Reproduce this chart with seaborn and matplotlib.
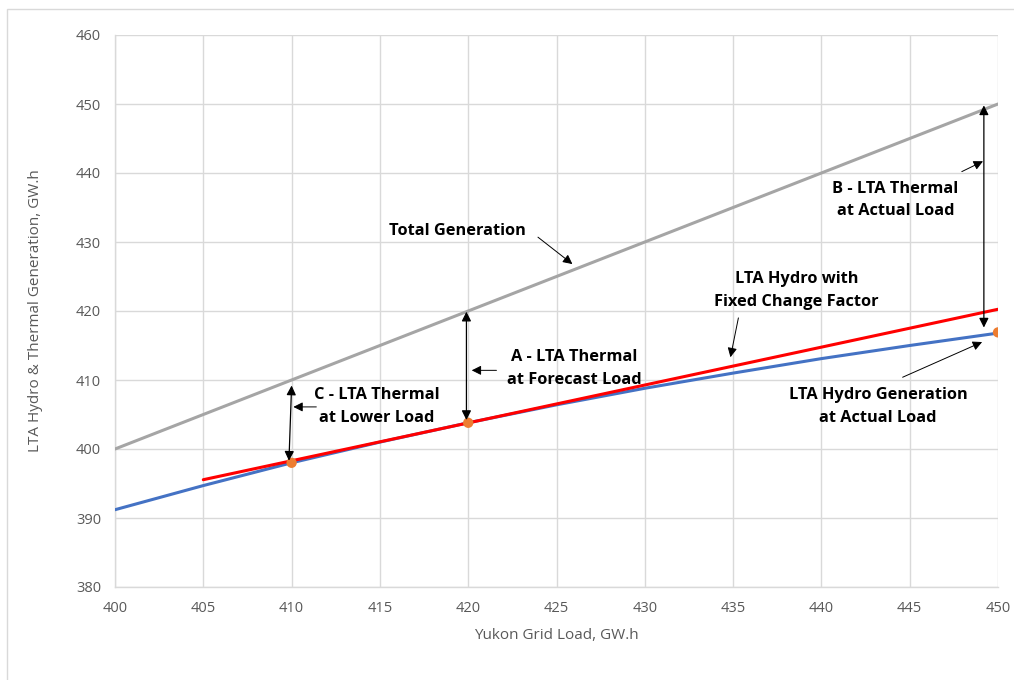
import matplotlib
matplotlib.use("Agg")
import matplotlib.pyplot as plt
import seaborn as sns
import pandas as pd
from matplotlib.patches import Rectangle

# ---- data ----
load = [400, 405, 410, 415, 420, 425, 430, 435, 440, 445, 450]
total_gen = [400, 405, 410, 415, 420, 425, 430, 435, 440, 445, 450]
hydro_gen = [391.2, 394.7, 398.0, 401.0, 403.8, 406.4, 408.8, 411.0, 413.1, 415.0, 416.8]
fixed_load = [405, 450]
fixed_hydro = [395.55, 420.25]
point_load = [410, 420, 450]
point_hydro = [398.0, 403.8, 416.9]
x_ticks = [400, 405, 410, 415, 420, 425, 430, 435, 440, 445, 450]
y_ticks = [380, 390, 400, 410, 420, 430, 440, 450, 460]

sns.set_theme(style="white")
plt.rcParams['font.family'] = ['Open Sans', 'DejaVu Sans']

fig = plt.figure(figsize=(10.14, 6.8), dpi=100)
ax = fig.add_axes([115/1014, 1-587/680, (998-115)/1014, (587-35)/680])

fig.patches.append(Rectangle((7/1014, -0.1), 1.2, 1-9/680+0.1, transform=fig.transFigure,
                             fill=False, edgecolor="#D9D9D9", linewidth=1.0))

df_total = pd.DataFrame({"x": load, "y": total_gen})
df_hydro = pd.DataFrame({"x": load, "y": hydro_gen})
df_fixed = pd.DataFrame({"x": fixed_load, "y": fixed_hydro})
df_pts = pd.DataFrame({"x": point_load, "y": point_hydro})

sns.lineplot(data=df_total, x="x", y="y", ax=ax, color="#A5A5A5", linewidth=2.2, zorder=3)
sns.lineplot(data=df_hydro, x="x", y="y", ax=ax, color="#4472C4", linewidth=2.2, zorder=3)
sns.lineplot(data=df_fixed, x="x", y="y", ax=ax, color="#FF0000", linewidth=2.2, zorder=4)
sns.scatterplot(data=df_pts, x="x", y="y", ax=ax, color="#ED7D31", s=55, edgecolor="none", zorder=5)

ax.set_xlim(400, 450)
ax.set_ylim(380, 460)
ax.set_xticks(x_ticks)
ax.set_yticks(y_ticks)
ax.grid(True, color="#D9D9D9", linewidth=1.0)
for s in ["top", "right"]:
    ax.spines[s].set_visible(False)
for s in ["left", "bottom"]:
    ax.spines[s].set_color("#D9D9D9")
    ax.spines[s].set_linewidth(1.0)
ax.tick_params(axis="both", length=0, labelsize=10.5, labelcolor="#595959", pad=10)
ax.set_xlabel("Yukon Grid Load, GW.h", fontsize=11, color="#595959", labelpad=9)
ax.set_ylabel("LTA Hydro & Thermal Generation, GW.h", fontsize=11, color="#595959", labelpad=24)

# double-headed arrows
dbl = dict(arrowstyle="<|-|>", color="black", lw=0.9, mutation_scale=14, shrinkA=0, shrinkB=0)
ax.annotate("", xy=(409.85, 398.3), xytext=(410.0, 409.2), arrowprops=dbl, zorder=6)
ax.annotate("", xy=(419.9, 404.2), xytext=(419.9, 419.9), arrowprops=dbl, zorder=6)
ax.annotate("", xy=(449.2, 417.6), xytext=(449.2, 449.8), arrowprops=dbl, zorder=6)

single = dict(arrowstyle="-|>", color="black", lw=0.7, mutation_scale=14, shrinkA=0, shrinkB=0)
tkw = dict(fontsize=11.8, fontweight="bold", color="black", ha="center", va="center",
           linespacing=1.55)

ax.text(419.4, 431.6, "Total Generation", **tkw)
ax.annotate("", xy=(425.9, 426.8), xytext=(423.95, 430.7), arrowprops=single)

ax.text(426.0, 411.7, "A - LTA Thermal\nat Forecast Load", **tkw)
ax.annotate("", xy=(420.2, 411.4), xytext=(421.6, 411.4), arrowprops=single)

ax.text(414.8, 406.2, "C - LTA Thermal\nat Lower Load", **tkw)
ax.annotate("", xy=(410.1, 406.1), xytext=(411.4, 406.1), arrowprops=single)

ax.text(444.2, 436.1, "B - LTA Thermal\nat Actual Load", **tkw)
ax.annotate("", xy=(449.15, 441.7), xytext=(447.95, 440.2), arrowprops=single)

ax.text(438.6, 423.0, "LTA Hydro with\nFixed Change Factor", **tkw)
ax.annotate("", xy=(434.85, 413.3), xytext=(435.3, 419.0), arrowprops=single)

ax.text(443.2, 406.2, "LTA Hydro Generation\nat Actual Load", **tkw)
ax.annotate("", xy=(449.1, 415.5), xytext=(444.6, 410.4), arrowprops=single)

fig.savefig("out.png", dpi=100)
